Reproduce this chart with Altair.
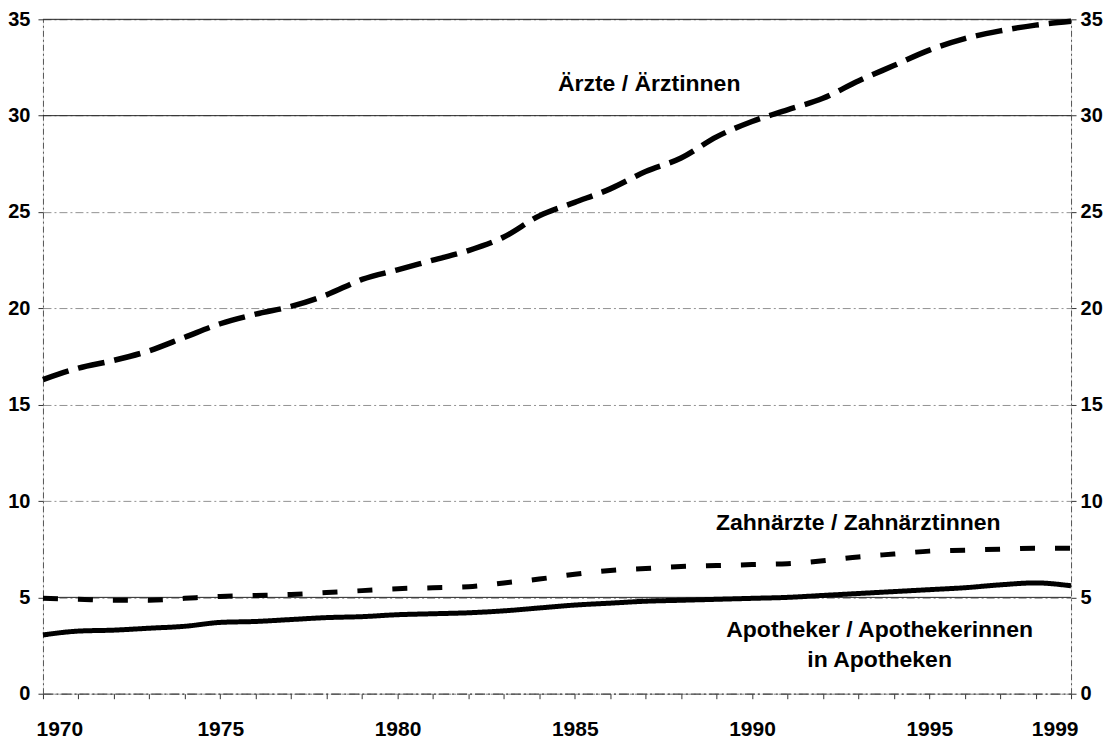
import altair as alt
import pandas as pd

years = list(range(1970, 2000))
aerzte = [16.3, 16.9, 17.3, 17.8, 18.5, 19.2, 19.7, 20.1, 20.7, 21.5,
          22.0, 22.5, 23.0, 23.7, 24.8, 25.5, 26.2, 27.1, 27.8, 28.9,
          29.7, 30.3, 30.9, 31.8, 32.6, 33.4, 34.0, 34.4, 34.7, 34.9]
zahn = [4.95, 4.9, 4.85, 4.85, 4.95, 5.05, 5.1, 5.15, 5.25, 5.35,
        5.45, 5.5, 5.55, 5.75, 5.95, 6.2, 6.4, 6.5, 6.6, 6.65,
        6.7, 6.75, 6.9, 7.1, 7.25, 7.4, 7.45, 7.5, 7.55, 7.55]
apo = [3.05, 3.25, 3.3, 3.4, 3.5, 3.7, 3.75, 3.85, 3.95, 4.0,
       4.1, 4.15, 4.2, 4.3, 4.45, 4.6, 4.7, 4.8, 4.85, 4.9,
       4.95, 5.0, 5.1, 5.2, 5.3, 5.4, 5.5, 5.65, 5.75, 5.6]
series_names = ["Ärzte / Ärztinnen", "Zahnärzte / Zahnärztinnen",
                "Apotheker / Apothekerinnen\nin Apotheken"]
y_ticks = [0, 5, 10, 15, 20, 25, 30, 35]
solid_grid = [5, 30, 35]

label_x = [1987.1, 1993.0, 1993.6]
label_y = [31.65, 8.85, 3.3]

FONT = "Liberation Sans"

df = pd.DataFrame({"Jahr": years * 3,
                   "Wert": aerzte + zahn + apo,
                   "Serie": [series_names[0]] * 30 + [series_names[1]] * 30 + [series_names[2]] * 30})

xs = alt.Scale(domain=[1970, 1999], nice=False, zero=False)
ys = alt.Scale(domain=[0, 35], nice=False)

x_axis = alt.Axis(values=years, format="d",
                  labelExpr="(datum.value % 5 == 0 || datum.value == 1999) ? datum.label : ''",
                  grid=False, domainColor="#444", domainWidth=1.2,
                  domainDash=[10, 3, 2, 3], tickColor="#333",
                  tickSize=5, labelPadding=20, labelFontSize=21, labelFontWeight="bold",
                  labelFont=FONT, labelColor="black", title=None,
                  labelFlush=True, labelFlushOffset=7)

left_axis = alt.Axis(values=y_ticks, orient="left", grid=True, gridColor="#777",
                     gridDash=[8, 3, 2, 3], gridWidth=0.8,
                     domainColor="#555", domainDash=[6, 3, 2, 3], domainWidth=1,
                     tickColor="#333", tickSize=5, labelPadding=8,
                     labelFontSize=20, labelFontWeight="bold", labelFont=FONT,
                     labelColor="black", title=None)
right_axis = alt.Axis(values=y_ticks, orient="right", grid=False,
                      domainColor="#555", domainDash=[6, 3, 2, 3], domainWidth=1,
                      tickColor="#333", tickSize=5, labelPadding=4,
                      labelFontSize=20, labelFontWeight="bold", labelFont=FONT,
                      labelColor="black", title=None)

base = alt.Chart(df)

grid_rules = alt.Chart(pd.DataFrame({"v": solid_grid})).mark_rule(
    color="#222", strokeWidth=1).encode(y=alt.Y("v:Q", scale=ys, axis=left_axis))

right_layer = alt.Chart(pd.DataFrame({"v": y_ticks})).mark_rule(opacity=0).encode(
    y=alt.Y("v:Q", scale=ys, axis=right_axis))

def line(name, dash, width):
    return base.transform_filter(alt.datum.Serie == name).mark_line(
        color="black", strokeWidth=width, strokeDash=dash, interpolate="monotone",
        strokeCap="butt").encode(
        x=alt.X("Jahr:Q", scale=xs, axis=x_axis),
        y=alt.Y("Wert:Q", scale=ys, axis=None))

l1 = line(series_names[0], [27, 10], 5.5)
l2 = line(series_names[1], [15, 20], 5)
l3 = line(series_names[2], [1, 0], 5)

ann = pd.DataFrame({"t": series_names, "x": label_x, "y": label_y})
texts = alt.Chart(ann).mark_text(font=FONT, fontSize=23, fontWeight="bold",
                                 color="black", align="center", baseline="middle",
                                 lineBreak="\n", lineHeight=30).encode(
    x=alt.X("x:Q", scale=xs, axis=x_axis),
    y=alt.Y("y:Q", scale=ys, axis=None),
    text="t:N")

chart = alt.layer(grid_rules, l1, l2, l3, texts, right_layer).resolve_axis(
    y="independent").properties(
    width=1029, height=675,
    autosize=alt.AutoSizeParams(type="none"),
    padding={"left": 35, "top": 11, "right": 40, "bottom": 50},
).configure_view(stroke=None).configure(background="white")

chart.save("out.html", embed_options={"renderer": "svg", "actions": False})
